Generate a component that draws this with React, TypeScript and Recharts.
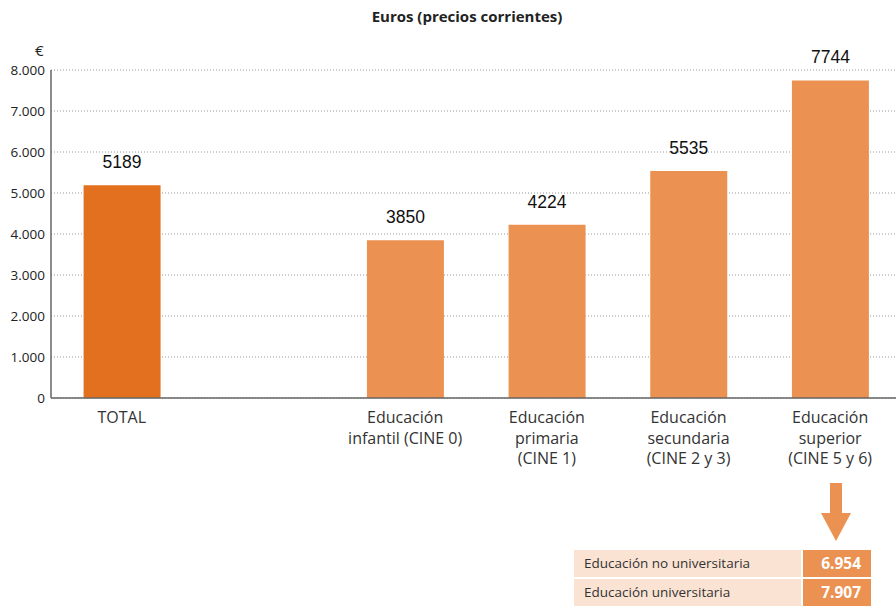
import { BarChart, Bar, XAxis, YAxis, CartesianGrid, Cell, LabelList } from "recharts";

const categories = [
  "TOTAL",
  "",
  "Educación|infantil (CINE 0)",
  "Educación|primaria|(CINE 1)",
  "Educación|secundaria|(CINE 2 y 3)",
  "Educación|superior|(CINE 5 y 6)",
];
const values: (number | null)[] = [5189, null, 3850, 4224, 5535, 7744];
const yTicks = [0, 1000, 2000, 3000, 4000, 5000, 6000, 7000, 8000];
const tableLabels = ["Educación no universitaria", "Educación universitaria"];
const tableValues = ["6.954", "7.907"];

const data = categories.map((c, i) => ({ name: c, value: values[i] }));

const fmt = (v: number) =>
  v === 0 ? "0" : String(v).replace(/\B(?=(\d{3})+(?!\d))/g, ".");

const CatTick = (props: any) => {
  const { x, y, payload } = props;
  const lines = String(payload.value).split("|");
  return (
    <g>
      {lines.map((l: string, i: number) => (
        <text
          key={i}
          x={x}
          y={y + 17 + i * 20.5}
          textAnchor="middle"
          fill="#333"
          fontSize={16}
          fontFamily="'Open Sans', sans-serif"
        >
          {l}
        </text>
      ))}
    </g>
  );
};

export default function App() {
  return (
    <div
      style={{
        position: "absolute",
        left: 0,
        top: 0,
        width: 896,
        height: 606,
        overflow: "hidden",
        background: "#fff",
        fontFamily: "'Open Sans', sans-serif",
      }}
    >
      <div
        style={{
          position: "absolute",
          left: 0,
          width: 934,
          top: 6,
          textAlign: "center",
          fontSize: 15,
          fontWeight: 700,
          color: "#222",
        }}
      >
        Euros (precios corrientes)
      </div>
      <div style={{ position: "absolute", left: 35, top: 40, fontSize: 15, color: "#222" }}>€</div>
      <BarChart
        width={904}
        height={606}
        data={data}
        margin={{ top: 70, right: 3, left: 0, bottom: 128 }}
        barCategoryGap="23%"
      >
        <CartesianGrid vertical={false} stroke="#999" strokeDasharray="1 2" />
        <XAxis
          dataKey="name"
          interval={0}
          height={80}
          tick={<CatTick />}
          tickLine={false}
          axisLine={{ stroke: "#666", strokeWidth: 1.5 }}
        />
        <YAxis
          width={51}
          domain={[0, 8000]}
          ticks={yTicks}
          tickFormatter={fmt}
          tickSize={0}
          tickMargin={6}
          axisLine={{ stroke: "#666", strokeWidth: 1.5 }}
          tick={{ fontSize: 13.5, fill: "#222", fontFamily: "'Open Sans', sans-serif" }}
        />
        <Bar dataKey="value" isAnimationActive={false}>
          {data.map((d, i) => (
            <Cell key={i} fill={i === 0 ? "#E3701F" : "#EB9151"} />
          ))}
          <LabelList
            dataKey="value"
            position="top"
            offset={17}
            fill="#111"
            fontSize={17.5}
            fontFamily="'Liberation Sans', Arial, sans-serif"
          />
        </Bar>
      </BarChart>
      <svg style={{ position: "absolute", left: 0, top: 0 }} width={896} height={606}>
        <rect x={830} y={483} width={12} height={31} fill="#EB9151" />
        <polygon points="821,513 851,513 836,541" fill="#EB9151" />
      </svg>
      {tableLabels.map((l, i) => (
        <div key={i}>
          <div
            style={{
              position: "absolute",
              left: 574,
              top: 550 + i * 28.5,
              width: 227,
              height: 27,
              background: "#FBE3D3",
              fontSize: 13.5,
              color: "#333",
              lineHeight: "27px",
              paddingLeft: 10,
              boxSizing: "border-box",
            }}
          >
            {l}
          </div>
          <div
            style={{
              position: "absolute",
              left: 803,
              top: 550 + i * 28.5,
              width: 68,
              height: 27,
              background: "#EB9151",
              fontSize: 15.5,
              fontWeight: 700,
              color: "#fff",
              lineHeight: "27px",
              textAlign: "right",
              paddingRight: 10,
              boxSizing: "border-box",
            }}
          >
            {tableValues[i]}
          </div>
        </div>
      ))}
    </div>
  );
}
